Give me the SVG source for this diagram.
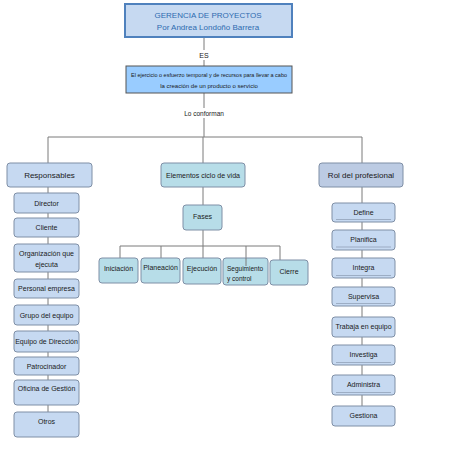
<svg xmlns="http://www.w3.org/2000/svg" width="453" height="453" viewBox="0 0 453 453">
<style>
text{font-family:"Liberation Sans","DejaVu Sans",sans-serif;font-size:7px;fill:#1a1a1a;text-anchor:middle}
.c line,.c polyline{stroke:#7a7a7a;stroke-width:1;fill:none}
.b{fill:#c6d9f1;stroke:#7f8fa6;stroke-width:1}
.m{fill:#b7dde8;stroke:#7f8fa6;stroke-width:1}
.r{fill:#bccbe3;stroke:#7f8fa6;stroke-width:1}
.u{stroke:#8a9ab0;stroke-width:0.7}
.h{font-size:8px}
</style>
<rect width="453" height="453" fill="#fff"/>
<g class="c" id="connectors">
<line x1="204" y1="37" x2="204" y2="50"/>
<line x1="204" y1="60" x2="204" y2="66"/>
<line x1="204" y1="93" x2="204" y2="108"/>
<line x1="204" y1="118" x2="204" y2="137"/>
<polyline points="48,163 48,137 362,137 362,163"/>
<line x1="203" y1="137" x2="203" y2="163"/>
<line x1="48" y1="187" x2="48" y2="412"/>
<line x1="362" y1="187" x2="362" y2="406"/>
<line x1="203" y1="187" x2="203" y2="205"/>
<line x1="203" y1="230" x2="203" y2="258"/>
<line x1="120" y1="246" x2="280" y2="246"/>
<line x1="120" y1="246" x2="120" y2="258"/>
<line x1="161" y1="246" x2="161" y2="258"/>
<line x1="246" y1="246" x2="246" y2="266"/>
<line x1="280" y1="246" x2="280" y2="260"/>
</g>
<g id="title"><rect x="125" y="4" width="167" height="33" fill="#c6d9f1" stroke="#4f81bd" stroke-width="2"/>
<text x="208" y="18" style="fill:#2e6bb0;font-size:8px">GERENCIA DE PROYECTOS</text>
<text x="208" y="30" style="fill:#2e6bb0;font-size:8px">Por Andrea Londoño Barrera</text></g>
<text x="204" y="58">ES</text>
<g id="definicion"><rect x="126" y="66" width="166" height="27" fill="#99ccff" stroke="#555" stroke-width="1"/>
<text x="209" y="77" style="font-size:6px" textLength="156" lengthAdjust="spacingAndGlyphs">El ejercicio o esfuerzo temporal y de recursos para llevar a cabo</text>
<text x="209" y="88" style="font-size:6px">la creación de un producto o servicio</text></g>
<text x="204" y="116" style="font-size:6.5px">Lo conforman</text>
<g id="responsables"><rect class="b" x="7" y="163" width="85" height="24" rx="3"/><text class="h" x="49.5" y="178">Responsables</text></g>
<g id="elementos"><rect class="m" x="161" y="163" width="84" height="24" rx="3"/><text class="h" x="203" y="178" textLength="74" lengthAdjust="spacingAndGlyphs">Elementos ciclo de vida</text></g>
<g id="rol"><rect class="r" x="319" y="163" width="84" height="24" rx="3"/><text class="h" x="361" y="178">Rol del profesional</text></g>
<g id="director"><rect class="b" x="14" y="193" width="65" height="20" rx="3"/><text x="46.5" y="205.5">Director</text></g>
<g id="cliente"><rect class="b" x="14" y="218" width="65" height="19" rx="3"/><text x="46.5" y="230">Cliente</text></g>
<g id="organizacion"><rect class="b" x="14" y="244" width="65" height="28" rx="3"/><text x="46.5" y="256">Organización que</text><text x="46.5" y="267">ejecuta</text></g>
<g id="personal"><rect class="b" x="14" y="279" width="65" height="19" rx="3"/><text x="46.5" y="291">Personal empresa</text></g>
<g id="grupo"><rect class="b" x="14" y="305" width="65" height="20" rx="3"/><text x="46.5" y="317.5">Grupo del equipo</text></g>
<g id="equipodir"><rect class="b" x="14" y="331" width="65" height="21" rx="3"/><text x="46.5" y="344">Equipo de Dirección</text></g>
<g id="patrocinador"><rect class="b" x="14" y="357" width="65" height="18" rx="3"/><text x="46.5" y="368.5">Patrocinador</text></g>
<g id="oficina"><rect class="b" x="14" y="380" width="65" height="25" rx="3"/><text x="46.5" y="391">Oficina de Gestión</text></g>
<g id="otros"><rect class="b" x="14" y="412" width="65" height="25" rx="3"/><text x="46.5" y="424">Otros</text></g>
<g id="fases"><rect class="m" x="183" y="205" width="39" height="25" rx="3"/><text x="202.5" y="219">Fases</text></g>
<g id="iniciacion"><rect class="m" x="99" y="258" width="39" height="25" rx="3"/><text x="118.5" y="271">Iniciación</text></g>
<g id="planeacion"><rect class="m" x="141" y="258" width="39" height="25" rx="3"/><text x="160.5" y="270">Planeación</text></g>
<g id="ejecucion"><rect class="m" x="183" y="258" width="38" height="26" rx="3"/><text x="202" y="271">Ejecución</text></g>
<g id="seguimiento"><rect class="m" x="223" y="258" width="45" height="27" rx="3"/><line x1="246" y1="258" x2="246" y2="266" stroke="#7a7a7a"/><text x="227" y="271" style="text-anchor:start;font-size:6.5px">Seguimiento</text><text x="227" y="281" style="text-anchor:start;font-size:6.5px">y control</text></g>
<g id="cierre"><rect class="m" x="270" y="260" width="38" height="25" rx="3"/><text x="289" y="274">Cierre</text></g>
<g id="define"><rect class="b" x="332" y="203" width="63" height="19" rx="3"/><text x="363.5" y="214.5">Define</text><line class="u" x1="336" y1="219.5" x2="391" y2="219.5"/></g>
<g id="planifica"><rect class="b" x="332" y="230" width="63" height="20" rx="3"/><text x="363.5" y="242">Planifica</text><line class="u" x1="336" y1="247" x2="391" y2="247"/></g>
<g id="integra"><rect class="b" x="332" y="258" width="63" height="20" rx="3"/><text x="363.5" y="270">Integra</text><line class="u" x1="336" y1="275.5" x2="391" y2="275.5"/></g>
<g id="supervisa"><rect class="b" x="332" y="287" width="63" height="19" rx="3"/><text x="363.5" y="299">Supervisa</text><line class="u" x1="336" y1="303.5" x2="391" y2="303.5"/></g>
<g id="trabaja"><rect class="b" x="332" y="317" width="63" height="20" rx="3"/><text x="363.5" y="329">Trabaja en equipo</text></g>
<g id="investiga"><rect class="b" x="332" y="345" width="63" height="20" rx="3"/><text x="363.5" y="357">Investiga</text><line class="u" x1="336" y1="362.5" x2="391" y2="362.5"/></g>
<g id="administra"><rect class="b" x="332" y="375" width="63" height="20" rx="3"/><text x="363.5" y="387">Administra</text><line class="u" x1="336" y1="392.5" x2="391" y2="392.5"/></g>
<g id="gestiona"><rect class="b" x="332" y="406" width="63" height="20" rx="3"/><text x="363.5" y="418">Gestiona</text></g>
</svg>
